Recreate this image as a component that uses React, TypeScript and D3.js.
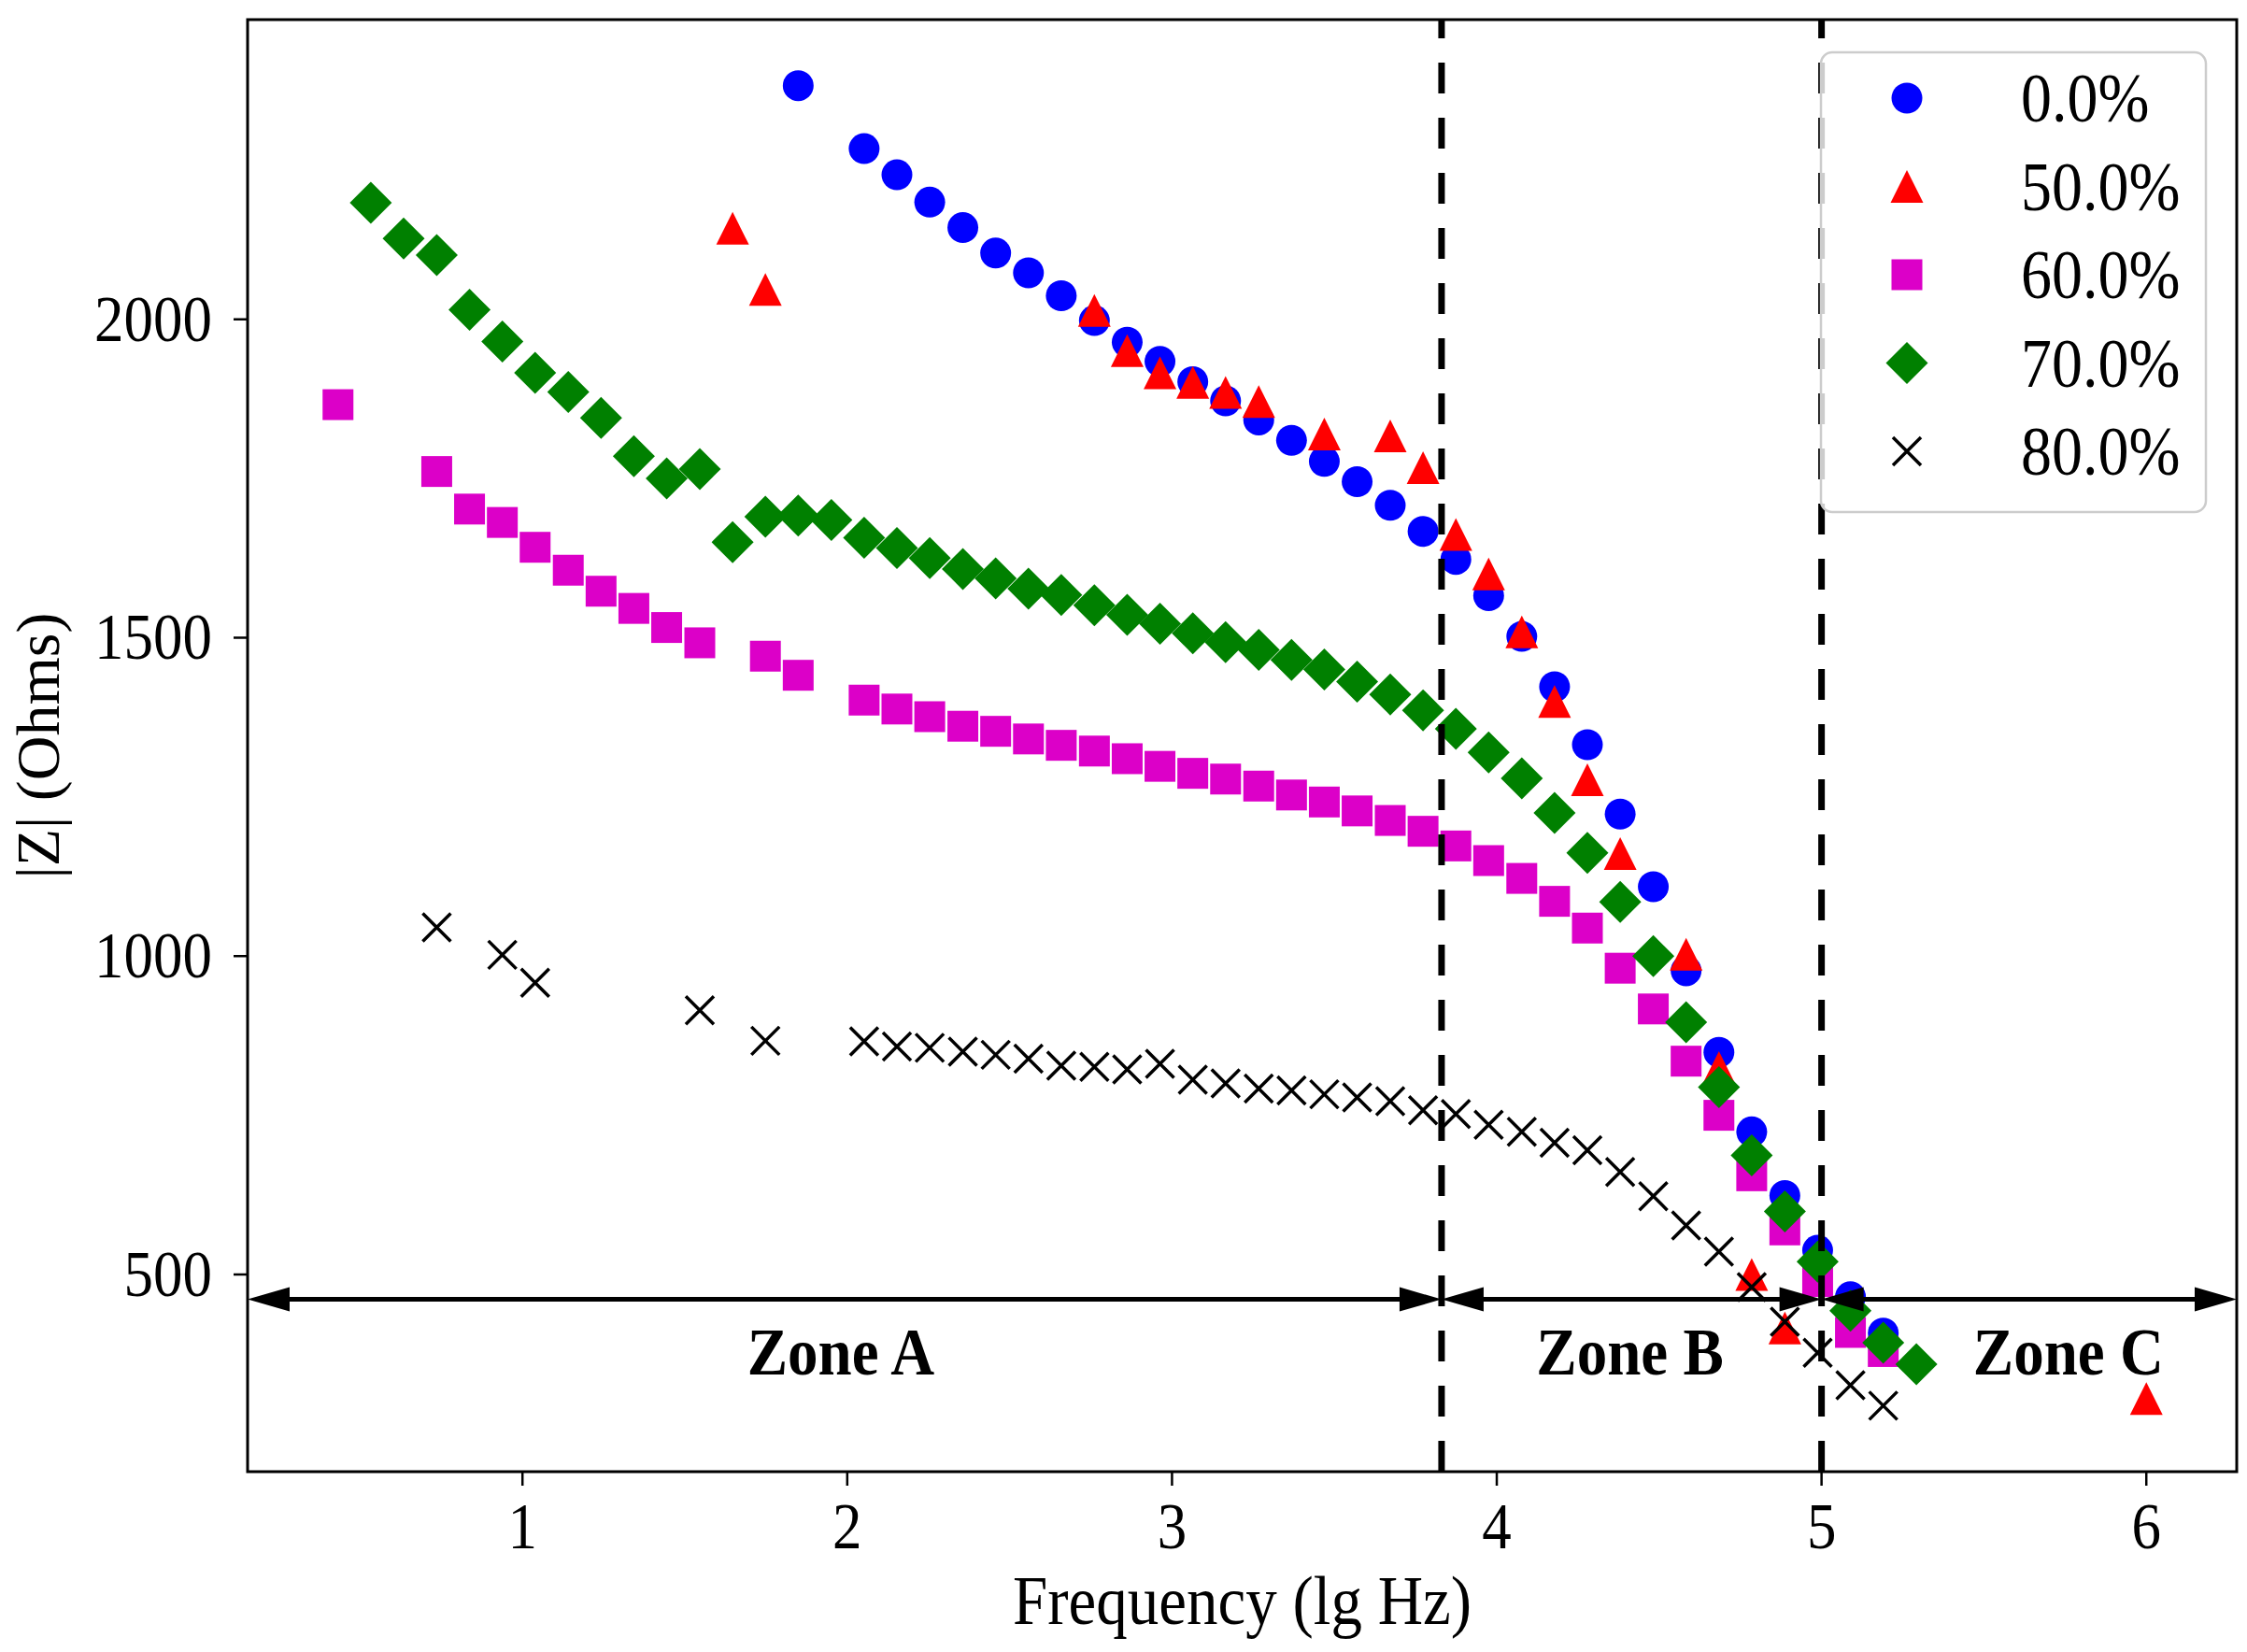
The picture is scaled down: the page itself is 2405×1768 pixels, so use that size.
import React from 'react';
import * as d3 from 'd3';

// lg(frequency) of each sweep point
const lgFreq = [
  0.432, 0.533, 0.634, 0.736, 0.837, 0.938, 1.039, 1.141, 1.242, 1.343,
  1.444, 1.546, 1.647, 1.748, 1.849, 1.951, 2.052, 2.153, 2.254, 2.356,
  2.457, 2.558, 2.659, 2.761, 2.862, 2.963, 3.064, 3.165, 3.267, 3.368,
  3.469, 3.570, 3.672, 3.773, 3.874, 3.975, 4.077, 4.178, 4.279, 4.380,
  4.482, 4.583, 4.684, 4.785, 4.887, 4.988, 5.089, 5.190, 5.292, 5.393,
  5.494, 5.595, 5.696, 5.798, 5.899, 6.000
];

const _ = null;

// |Z| (Ohms), null where the point is not plotted
const z00 = [
  _, _, _, _, _, _, _, _, _, _,
  _, _, _, _, 2367, _, 2268, 2227, 2184, 2144,
  2104, 2073, 2037, 1998, 1964, 1934, 1902, 1872, 1842, 1810,
  1777, 1745, 1708, 1667, 1623, 1566, 1502, 1423, 1332, 1223,
  1109, 977, 849, 724, 624, 538, 465, 408, _, _,
  _, _, _, _, _, _
];
const z50 = [
  _, _, _, _, _, _, _, _, _, _,
  _, _, 2143, 2047, _, _, _, _, _, _,
  _, _, _, 2014, 1951, 1916, 1901, 1885, 1871, _,
  1820, _, 1817, 1767, 1662, 1600, 1509, 1400, 1277, 1161,
  _, 1003, 825, 500, 416, _, _, _, _, _,
  _, _, _, _, _, 305
];
const z60 = [
  1866, _, _, 1761, 1702, 1681, 1642, 1606, 1573, 1546,
  1516, 1492, _, 1471, 1441, _, 1402, 1388, 1376, 1361,
  1353, 1341, 1331, 1322, 1310, 1298, 1287, 1278, 1267, 1253,
  1242, 1228, 1213, 1196, 1173, 1150, 1122, 1086, 1044, 981,
  917, 835, 750, 655, 570, 489, 409, 379, _, _,
  _, _, _, _, _, _
];
const z70 = [
  _, 2183, 2127, 2101, 2015, 1965, 1916, 1886, 1845, 1785,
  1750, 1765, 1650, 1690, 1692, 1685, 1657, 1641, 1625, 1608,
  1593, 1577, 1567, 1551, 1536, 1522, 1507, 1493, 1481, 1465,
  1450, 1431, 1411, 1386, 1357, 1320, 1279, 1225, 1162, 1085,
  1000, 896, 794, 687, 599, 520, 443, 393, 359, _,
  _, _, _, _, _, _
];
const z80 = [
  _, _, _, 1045, _, 1002, 958, _, _, _,
  _, 915, _, 867, _, _, 866, 858, 856, 850,
  845, 839, 828, 826, 822, 831, 806, 800, 792, 789,
  783, 778, 772, 758, 752, 735, 724, 707, 695, 661,
  623, 577, 536, 480, 426, 377, 326, 294, _, _,
  _, _, _, _, _, _
];

const seriesLabels = ['0.0%', '50.0%', '60.0%', '70.0%', '80.0%'];
const seriesValues = [z00, z50, z60, z70, z80];
const seriesColors = ['#0000ff', '#ff0000', '#dc00c8', '#008000', '#000000'];
const seriesShapes = ['circle', 'triangle', 'square', 'diamond', 'cross'];

const xTicks = [1, 2, 3, 4, 5, 6];
const yTicks = [500, 1000, 1500, 2000];

// zone boundaries (lg Hz) and labels
const zoneBounds = [3.83, 5.0];
const zoneNames = ['Zone A', 'Zone B', 'Zone C'];
const zoneLabelX = [1.98, 4.41, 5.76];
const zoneArrowZ = 461;
const zoneLabelZ = 343;

const W = 2405;
const H = 1768;
const plot = { left: 265, right: 2394, top: 21, bottom: 1575 };
const FONT = "'Liberation Serif', 'Times New Roman', serif";
const STRETCH = 1.12; // the source figure's text is a bit tall and narrow

function Marker({ shape, color, cx, cy }: { shape: string; color: string; cx: number; cy: number }) {
  if (shape === 'circle') return <circle cx={cx} cy={cy} r={16.5} fill={color} />;
  if (shape === 'triangle')
    return <path d={`M${cx},${cy - 17.5}L${cx + 17.5},${cy + 17.5}L${cx - 17.5},${cy + 17.5}Z`} fill={color} />;
  if (shape === 'square') return <rect x={cx - 16.5} y={cy - 16.5} width={33} height={33} fill={color} />;
  if (shape === 'diamond')
    return <path d={`M${cx},${cy - 22.5}L${cx + 22.5},${cy}L${cx},${cy + 22.5}L${cx - 22.5},${cy}Z`} fill={color} />;
  return (
    <path
      d={`M${cx - 15},${cy - 15}L${cx + 15},${cy + 15}M${cx + 15},${cy - 15}L${cx - 15},${cy + 15}`}
      stroke={color}
      strokeWidth={3.5}
      fill="none"
    />
  );
}

// text anchored at its baseline point, stretched vertically
function Label({ x, y, size, anchor = 'start', bold = false, children }: any) {
  return (
    <text
      transform={`translate(${x},${y}) scale(1,${STRETCH})`}
      textAnchor={anchor}
      fontSize={size}
      fontWeight={bold ? 'bold' : 'normal'}
    >
      {children}
    </text>
  );
}

// double headed arrow, filled heads like matplotlib '<|-|>'
function DoubleArrow({ x1, x2, y }: { x1: number; x2: number; y: number }) {
  const hl = 45;
  const hw = 13;
  return (
    <g>
      <line x1={x1 + hl - 2} x2={x2 - hl + 2} y1={y} y2={y} stroke="#000" strokeWidth={5} />
      <path d={`M${x1},${y}L${x1 + hl},${y - hw}L${x1 + hl},${y + hw}Z`} fill="#000" />
      <path d={`M${x2},${y}L${x2 - hl},${y - hw}L${x2 - hl},${y + hw}Z`} fill="#000" />
    </g>
  );
}

export default function App() {
  const allY = seriesValues.flat().filter((v) => v != null) as number[];
  const [x0, x1] = d3.extent(lgFreq) as [number, number];
  const [y0, y1] = d3.extent(allY) as [number, number];
  const xPad = (x1 - x0) * 0.05;
  const yPad = (y1 - y0) * 0.05;

  const x = d3.scaleLinear().domain([x0 - xPad, x1 + xPad]).range([plot.left, plot.right]);
  const y = d3.scaleLinear().domain([y0 - yPad, y1 + yPad]).range([plot.bottom, plot.top]);

  const edges = [x.domain()[0], ...zoneBounds, x.domain()[1]];

  const legend = { x: 1949, y: 56, w: 412, h: 492, markerX: 2041, textX: 2163, row0: 105, rowStep: 94.5 };

  return (
    <svg
      width={W}
      height={H}
      viewBox={`0 0 ${W} ${H}`}
      style={{ position: 'absolute', left: 0, top: 0, background: '#fff' }}
      fontFamily={FONT}
    >
      <rect x={0} y={0} width={W} height={H} fill="#fff" />

      {/* data */}
      {seriesValues.map((vals, si) => (
        <g key={seriesLabels[si]}>
          {vals.map((v, i) =>
            v == null ? null : (
              <Marker key={i} shape={seriesShapes[si]} color={seriesColors[si]} cx={x(lgFreq[i])} cy={y(v)} />
            )
          )}
        </g>
      ))}

      {/* zone dividers */}
      {zoneBounds.map((b) => (
        <line
          key={b}
          x1={x(b)}
          x2={x(b)}
          y1={plot.bottom}
          y2={plot.top}
          stroke="#000"
          strokeWidth={7}
          strokeDasharray="33,26"
        />
      ))}

      {/* zone arrows and labels */}
      {zoneNames.map((name, i) => (
        <g key={name}>
          <DoubleArrow x1={x(edges[i])} x2={x(edges[i + 1])} y={y(zoneArrowZ)} />
          <Label x={x(zoneLabelX[i])} y={y(zoneLabelZ)} size={65} anchor="middle" bold>
            {name}
          </Label>
        </g>
      ))}

      {/* frame */}
      <rect
        x={plot.left}
        y={plot.top}
        width={plot.right - plot.left}
        height={plot.bottom - plot.top}
        fill="none"
        stroke="#000"
        strokeWidth={3}
      />

      {/* x axis */}
      {xTicks.map((t) => (
        <g key={t}>
          <line x1={x(t)} x2={x(t)} y1={plot.bottom} y2={plot.bottom + 15} stroke="#000" strokeWidth={2.5} />
          <Label x={x(t)} y={1657} size={63} anchor="middle">
            {t}
          </Label>
        </g>
      ))}
      <Label x={(plot.left + plot.right) / 2} y={1738} size={67} anchor="middle">
        Frequency (lg Hz)
      </Label>

      {/* y axis */}
      {yTicks.map((t) => (
        <g key={t}>
          <line x1={plot.left - 15} x2={plot.left} y1={y(t)} y2={y(t)} stroke="#000" strokeWidth={2.5} />
          <Label x={227} y={y(t) + 23} size={63} anchor="end">
            {t}
          </Label>
        </g>
      ))}
      <text
        transform={`translate(63,${(plot.top + plot.bottom) / 2}) rotate(-90)`}
        textAnchor="middle"
        fontSize={66}
      >
        |Z| (Ohms)
      </text>

      {/* legend */}
      <rect
        x={legend.x}
        y={legend.y}
        width={legend.w}
        height={legend.h}
        rx={12}
        fill="#fff"
        fillOpacity={0.8}
        stroke="#cccccc"
        strokeWidth={2.5}
      />
      {seriesLabels.map((lab, i) => {
        const cy = legend.row0 + i * legend.rowStep;
        return (
          <g key={lab}>
            <Marker shape={seriesShapes[i]} color={seriesColors[i]} cx={legend.markerX} cy={cy} />
            <Label x={legend.textX} y={cy + 25} size={66}>
              {lab}
            </Label>
          </g>
        );
      })}
    </svg>
  );
}
